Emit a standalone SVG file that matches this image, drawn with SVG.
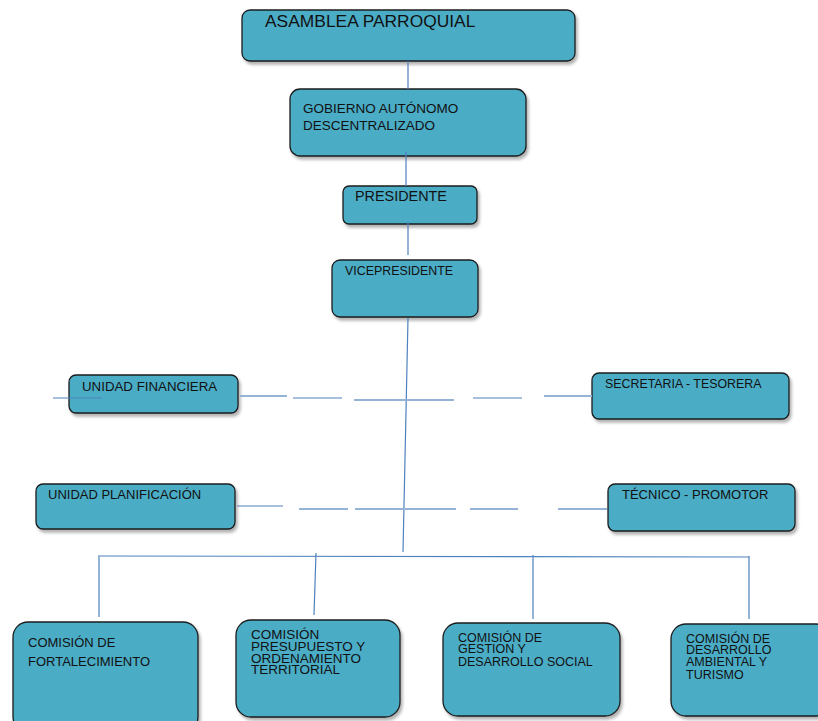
<svg xmlns="http://www.w3.org/2000/svg" width="818" height="721" viewBox="0 0 818 721">
<defs>
<filter id="sh" x="-10%" y="-10%" width="130%" height="140%">
<feDropShadow dx="2" dy="3" stdDeviation="1.5" flood-color="#000" flood-opacity="0.3"/>
</filter>
</defs>
<style>
.box{fill:#4BACC6;stroke:#1c1c1c;stroke-width:1.3;filter:url(#sh)}
text{font-family:"Liberation Sans",Arial,sans-serif;fill:#111;font-size:13px}
.c{stroke:#4F81BD;stroke-width:1.2;fill:none}
.l{stroke:#95B3D7;stroke-width:2.2;fill:none}
</style>
<rect width="818" height="721" fill="#fff"/>
<g id="asamblea"><rect class="box" x="242" y="10" width="333" height="51" rx="8"/><text x="265" y="27" style="font-size:17.4px">ASAMBLEA PARROQUIAL</text></g>
<g id="gobierno"><rect class="box" x="290" y="89" width="236" height="67" rx="10"/><text style="font-size:13.5px"><tspan x="303" y="113">GOBIERNO AUTÓNOMO</tspan><tspan x="303" y="130">DESCENTRALIZADO</tspan></text></g>
<g id="presidente"><rect class="box" x="343" y="186" width="134" height="38" rx="6"/><text x="355" y="201" style="font-size:14.4px">PRESIDENTE</text></g>
<g id="vicepresidente"><rect class="box" x="332" y="260" width="146" height="57" rx="8"/><text x="345" y="275" style="font-size:12.4px">VICEPRESIDENTE</text></g>
<g id="unidad-financiera"><rect class="box" x="69" y="375" width="169" height="38" rx="7"/><text x="82" y="391" style="font-size:13.3px">UNIDAD FINANCIERA</text></g>
<g id="secretaria"><rect class="box" x="592" y="373" width="197" height="46" rx="7"/><text x="605" y="388" style="font-size:12.4px">SECRETARIA - TESORERA</text></g>
<g id="unidad-planificacion"><rect class="box" x="36" y="484" width="199" height="45" rx="7"/><text x="48" y="499">UNIDAD PLANIFICACIÓN</text></g>
<g id="tecnico"><rect class="box" x="608" y="484" width="187" height="47" rx="7"/><text x="622" y="499">TÉCNICO - PROMOTOR</text></g>
<g id="comision-fortalecimiento"><rect class="box" x="13" y="622" width="185" height="110" rx="15"/><text><tspan x="28" y="647">COMISIÓN DE</tspan><tspan x="28" y="666">FORTALECIMIENTO</tspan></text></g>
<g id="comision-presupuesto"><rect class="box" x="236" y="620" width="164" height="97" rx="15"/><text style="font-size:13.5px"><tspan x="251" y="639">COMISIÓN</tspan><tspan x="251" y="651">PRESUPUESTO Y</tspan><tspan x="251" y="663">ORDENAMIENTO</tspan><tspan x="251" y="674">TERRITORIAL</tspan></text></g>
<g id="comision-gestion"><rect class="box" x="443" y="623" width="177" height="93" rx="15"/><text style="font-size:12.5px"><tspan x="458" y="642">COMISIÓN DE</tspan><tspan x="458" y="653">GESTION Y</tspan><tspan x="458" y="666">DESARROLLO SOCIAL</tspan></text></g>
<g id="comision-ambiental"><rect class="box" x="671" y="624" width="160" height="92" rx="15"/><text style="font-size:12.5px"><tspan x="686" y="643">COMISIÓN DE</tspan><tspan x="686" y="654">DESARROLLO</tspan><tspan x="686" y="666">AMBIENTAL Y</tspan><tspan x="686" y="679">TURISMO</tspan></text></g>
<g id="connectors">
<path class="c" d="M408 61V89M406 152V186M408 222V255M408 318L403 552"/>
<path class="c" d="M53 398H102M293 398H342M473 398H522"/>
<path class="l" d="M240 396H287M354 400H454M544 396H592"/>
<path class="c" d="M237 506H283"/>
<path class="l" d="M299 509H348M355 509H456M470 509H518M558 509H607"/>
<path class="c" d="M98 556L749 557M99 556V617M316 553L314 615M533 555V619M749 556V619"/>
</g>
</svg>
